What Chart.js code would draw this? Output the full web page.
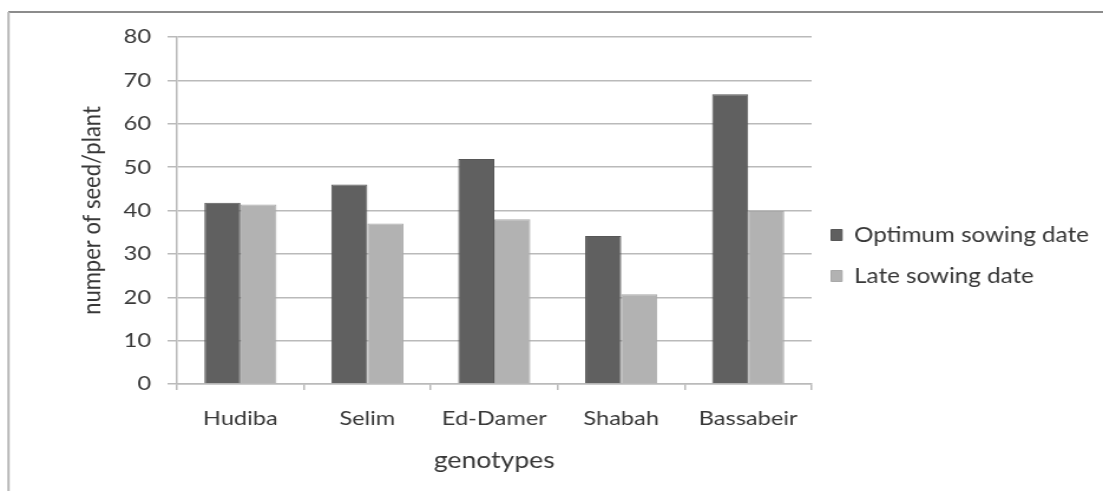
<!DOCTYPE html>
<html>
<head>
<meta charset="utf-8">
<script src="https://cdn.jsdelivr.net/npm/chart.js@4/dist/chart.umd.min.js"></script>
<style>
  html, body { margin: 0; padding: 0; background: #fff; overflow: hidden; }
</style>
</head>
<body>
<!-- the drawing surface is rendered narrower and widened on screen -->
<canvas id="c" width="935" height="491" style="display:block;width:1103px;height:491px"></canvas>
<script>
// genotypes on the category axis
const genotypes = ['Hudiba', 'Selim', 'Ed-Damer', 'Shabah', 'Bassabeir'];
// number of seeds per plant, per sowing date
const optimumSowing = [41.8, 46.0, 51.9, 34.1, 66.8];
const lateSowing = [41.4, 37.0, 38.0, 20.7, 39.9];
// value axis
const yTicks = [0, 10, 20, 30, 40, 50, 60, 70, 80];

const seriesNames = ['Optimum sowing date', 'Late sowing date'];
const textColor = '#383838';
const gridColor = '#bababa';
const FONT = 'Lato, "Open Sans", sans-serif';

// outer frame of the chart box (top and left edges)
const framePlugin = {
  id: 'frame',
  beforeDraw(chart) {
    const ctx = chart.ctx;
    ctx.save();
    ctx.fillStyle = '#ffffff';
    ctx.fillRect(0, 0, chart.width, chart.height);
    ctx.strokeStyle = '#8c8c8c';
    ctx.lineWidth = 2;
    ctx.beginPath();
    ctx.moveTo(7, 12);
    ctx.lineTo(chart.width, 12);
    ctx.stroke();
    ctx.strokeStyle = '#b8b8b8';
    ctx.beginPath();
    ctx.moveTo(7.2, 12);
    ctx.lineTo(7.2, chart.height);
    ctx.stroke();
    ctx.restore();
  }
};

// pull the legend block a little closer to the plot area
const legendNudge = {
  id: 'legendNudge',
  afterLayout(chart) {
    if (chart.legend) {
      chart.legend.left -= 4;
      chart.legend.right -= 4;
    }
  }
};

new Chart(document.getElementById('c'), {
  type: 'bar',
  data: {
    labels: genotypes,
    datasets: [
      {
        label: seriesNames[0],
        data: optimumSowing,
        backgroundColor: '#606060',
        borderColor: '#575757',
        borderWidth: 1
      },
      {
        label: seriesNames[1],
        data: lateSowing,
        backgroundColor: '#b2b2b2',
        borderColor: '#a9a9a9',
        borderWidth: 1
      }
    ]
  },
  options: {
    responsive: false,
    animation: false,
    devicePixelRatio: 1,
    layout: { padding: { left: 0, top: 37, right: 0, bottom: 17 } },
    datasets: { bar: { categoryPercentage: 0.568, barPercentage: 1 } },
    plugins: {
      tooltip: { enabled: false },
      legend: {
        position: 'right',
        align: 'center',
        maxWidth: 247,
        labels: {
          color: textColor,
          font: { family: FONT, size: 20.5 },
          boxWidth: 9.3,
          boxHeight: 11,
          padding: 20.5
        }
      }
    },
    scales: {
      x: {
        grid: {
          drawOnChartArea: false,
          drawTicks: true,
          tickLength: 6,
          color: gridColor,
          lineWidth: 1.5,
          offset: true
        },
        border: { display: true, color: gridColor, width: 1.5 },
        ticks: {
          color: textColor,
          font: { family: FONT, size: 20 },
          padding: 17,
          maxRotation: 0
        },
        title: {
          display: true,
          text: 'genotypes',
          color: textColor,
          font: { family: FONT, size: 22.5 },
          padding: { top: 0, bottom: 0 }
        },
        afterFit(scale) { scale.height = 90; }
      },
      y: {
        min: 0,
        max: 80,
        afterBuildTicks(scale) { scale.ticks = yTicks.map(v => ({ value: v })); },
        grid: {
          color: gridColor,
          lineWidth: 1.5,
          drawTicks: true,
          tickLength: 8
        },
        border: { display: true, color: gridColor, width: 1.5 },
        ticks: {
          color: textColor,
          font: { family: FONT, size: 20 },
          padding: 14
        },
        title: {
          display: true,
          text: 'numper of seed/plant',
          color: textColor,
          font: { family: FONT, size: 22 },
          padding: { top: 65, bottom: 0 }
        },
        afterFit(scale) { scale.width = 150; }
      }
    }
  },
  plugins: [framePlugin, legendNudge]
});
</script>
</body>
</html>
